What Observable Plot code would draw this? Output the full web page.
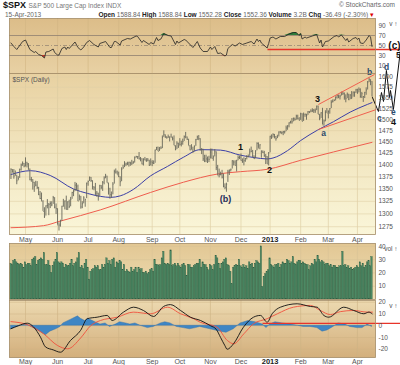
<!DOCTYPE html>
<html><head><meta charset="utf-8">
<script src="https://cdn.jsdelivr.net/npm/d3@7"></script>
<script src="https://cdn.jsdelivr.net/npm/@observablehq/plot@0.6"></script>
<style>
body{margin:0;background:#fff;font-family:"Liberation Sans",Arial,sans-serif;}
#wrap{position:relative;width:400px;height:365px;overflow:hidden;background:#fff;}
.panel{position:absolute;left:0;}
.panel svg{overflow:visible;display:block;}
.hd{position:absolute;white-space:nowrap;color:#666;font-size:6.5px;}
.hd b{color:#222;}
</style></head><body>
<div id="wrap">
 <div class="hd" style="left:3px;top:0px;font-size:9px;"><b style="color:#111">$SPX</b> <span style="font-size:6.5px;color:#777">S&amp;P 500 Large Cap Index INDX</span></div>
 <div class="hd" style="right:5px;top:1px;">© StockCharts.com</div>
 <div class="hd" style="left:5px;top:11px;">15-Apr-2013</div>
 <div class="hd" style="right:26px;top:11px;"><b>Open</b> 1588.84 <b>High</b> 1588.84 <b>Low</b> 1552.28 <b>Close</b> 1552.36 <b>Volume</b> 3.2B <b>Chg</b> -36.49 (-2.30%) <span style="color:#d00">▾</span></div>
</div>
<script>
// ---------- DATA ----------
const monthDays = [
 ["2012-04",[17,18,19,20,23,24,25,26,27,30]],
 ["2012-05",[1,2,3,4,7,8,9,10,11,14,15,16,17,18,21,22,23,24,25,29,30,31]],
 ["2012-06",[1,4,5,6,7,8,11,12,13,14,15,18,19,20,21,22,25,26,27,28,29]],
 ["2012-07",[2,3,5,6,9,10,11,12,13,16,17,18,19,20,23,24,25,26,27,30,31]],
 ["2012-08",[1,2,3,6,7,8,9,10,13,14,15,16,17,20,21,22,23,24,27,28,29,30,31]],
 ["2012-09",[4,5,6,7,10,11,12,13,14,17,18,19,20,21,24,25,26,27,28]],
 ["2012-10",[1,2,3,4,5,8,9,10,11,12,15,16,17,18,19,22,23,24,25,26,31]],
 ["2012-11",[1,2,5,6,7,8,9,12,13,14,15,16,19,20,21,23,26,27,28,29,30]],
 ["2012-12",[3,4,5,6,7,10,11,12,13,14,17,18,19,20,21,24,26,27,28,31]],
 ["2013-01",[2,3,4,7,8,9,10,11,14,15,16,17,18,22,23,24,25,28,29,30,31]],
 ["2013-02",[1,4,5,6,7,8,11,12,13,14,15,19,20,21,22,25,26,27,28]],
 ["2013-03",[1,4,5,6,7,8,11,12,13,14,15,18,19,20,21,22,25,26,27,28]],
 ["2013-04",[1,2,3,4,5,8,9,10,11,12,15]]
];
const monthLabels = ["","May","Jun","Jul","Aug","Sep","Oct","Nov","Dec","2013","Feb","Mar","Apr"];

const close = [
1390.78,1385.14,1376.92,1378.53,1366.94,1371.97,1390.69,1399.98,1403.36,1397.91,
1405.82,1402.31,1391.57,1369.10,1369.58,1363.72,1354.58,1357.99,1353.39,1338.35,
1330.66,1324.80,1304.86,1295.22,1315.99,1316.63,1318.86,1320.68,1317.82,1332.42,
1313.32,1310.33,1278.04,1278.18,1285.50,1315.13,1314.99,1325.66,1308.93,1324.18,
1314.88,1329.10,1342.84,1344.78,1357.98,1355.69,1325.51,1335.02,1313.72,1319.99,
1331.85,1329.04,1362.16,1365.51,1374.02,1367.58,1354.68,1352.46,1341.47,1341.45,
1334.76,1356.78,1353.64,1363.67,1372.78,1376.51,1362.66,1350.52,1338.31,1337.89,
1360.02,1385.97,1385.30,1379.32,1375.32,1365.00,1390.99,1394.23,1401.35,1402.22,
1402.80,1405.87,1404.11,1403.93,1405.53,1415.51,1418.16,1418.13,1413.17,1413.49,
1402.08,1411.13,1410.44,1409.30,1410.49,1399.48,1406.58,1404.94,1403.44,1432.12,
1437.92,1429.08,1433.56,1436.56,1459.99,1465.77,1461.19,1459.32,1461.05,1460.26,
1460.15,1456.89,1441.59,1433.32,1447.15,1440.67,1444.49,1445.75,1450.99,1461.40,
1460.93,1455.88,1441.48,1432.56,1432.84,1428.59,1440.13,1454.92,1460.91,1457.34,
1433.19,1433.82,1413.11,1408.75,1412.97,1411.94,1412.16,1427.59,1414.20,1417.26,
1428.39,1394.53,1377.51,1379.85,1380.03,1374.53,1355.49,1353.33,1359.88,1386.89,
1387.81,1391.03,1409.15,1406.29,1398.94,1409.93,1415.95,1416.18,1409.46,1407.05,
1409.28,1413.94,1418.07,1418.55,1427.84,1428.48,1419.45,1413.58,1430.36,1446.79,
1435.81,1443.69,1430.15,1426.66,1419.83,1418.10,1402.43,1426.19,1462.42,1459.37,
1466.47,1461.89,1457.15,1461.02,1472.12,1472.05,1470.68,1472.34,1472.63,1480.94,
1485.98,1492.56,1494.81,1494.82,1502.96,1500.18,1507.84,1501.96,1498.11,1513.17,
1495.71,1511.29,1512.12,1509.39,1517.93,1517.01,1519.43,1520.33,1521.38,1519.79,
1530.94,1511.95,1502.42,1515.60,1487.85,1496.94,1515.99,1514.68,1518.20,1525.20,
1539.79,1541.46,1544.26,1551.18,1556.22,1552.48,1554.52,1563.23,1560.70,1552.10,
1548.34,1558.71,1545.80,1556.89,1551.69,1563.77,1562.85,1569.19,1562.17,1570.25,
1553.69,1559.98,1553.28,1563.07,1568.61,1587.73,1593.37,1588.85,1552.36];

const high = [
1392.0,1390.4,1390.4,1387.4,1378.5,1375.6,1391.4,1402.1,1406.6,1403.4,
1415.3,1405.8,1403.1,1391.6,1373.9,1369.6,1363.7,1365.9,1365.2,1353.4,
1344.9,1341.8,1326.4,1312.2,1316.0,1328.5,1320.7,1324.1,1324.1,1334.9,
1332.4,1319.7,1310.3,1282.6,1287.6,1315.1,1329.0,1325.8,1335.5,1324.2,
1327.3,1333.0,1343.3,1348.2,1363.5,1361.6,1358.0,1337.8,1335.0,1324.2,
1334.4,1329.0,1362.2,1366.4,1374.8,1373.9,1367.1,1354.9,1361.5,1345.0,
1341.5,1357.7,1357.3,1365.4,1375.3,1380.4,1376.5,1362.3,1351.5,1343.9,
1363.1,1389.2,1391.7,1387.2,1385.0,1375.3,1394.2,1399.6,1407.1,1404.1,
1405.9,1405.9,1405.9,1410.0,1407.7,1417.4,1418.7,1418.1,1426.7,1416.1,
1413.5,1413.5,1416.2,1413.6,1413.9,1410.1,1413.1,1409.3,1408.8,1432.1,
1438.0,1438.7,1437.8,1439.2,1463.2,1474.5,1465.6,1461.5,1465.1,1461.2,
1467.1,1460.7,1463.2,1441.6,1450.2,1447.2,1457.1,1451.5,1456.1,1463.1,
1471.0,1460.9,1455.9,1442.0,1443.9,1438.4,1441.3,1455.5,1462.8,1464.0,
1457.1,1435.5,1433.8,1420.9,1421.1,1417.1,1418.8,1434.3,1434.3,1419.5,
1433.4,1428.4,1399.2,1391.4,1384.9,1388.8,1381.0,1360.6,1362.0,1388.8,
1389.8,1391.3,1409.2,1409.0,1409.0,1410.0,1419.7,1418.9,1423.7,1413.1,
1415.6,1413.9,1420.3,1421.6,1434.3,1438.6,1431.4,1419.5,1430.7,1448.0,
1447.8,1443.7,1430.2,1430.2,1429.4,1422.4,1418.1,1426.7,1462.4,1465.5,
1467.9,1466.5,1461.9,1464.7,1472.3,1472.8,1472.1,1473.3,1473.7,1485.2,
1486.0,1492.6,1496.1,1502.3,1503.3,1503.2,1509.9,1509.9,1504.2,1514.4,
1513.2,1514.8,1512.5,1512.1,1518.3,1518.3,1522.3,1524.7,1523.1,1524.2,
1530.9,1530.9,1511.9,1515.6,1525.8,1498.9,1520.1,1525.3,1520.0,1525.3,
1543.5,1545.3,1545.8,1552.5,1556.3,1556.8,1556.4,1563.6,1563.6,1561.6,
1557.3,1561.6,1558.7,1557.7,1564.9,1563.9,1564.1,1570.3,1570.6,1573.7,
1571.5,1563.0,1553.3,1563.1,1573.9,1589.1,1597.4,1593.4,1588.8];

const low = [
1369.6,1383.3,1370.3,1376.9,1358.8,1366.9,1372.0,1387.3,1397.3,1394.0,
1395.7,1393.9,1388.9,1367.0,1363.9,1347.8,1343.1,1354.6,1348.9,1336.6,
1328.5,1324.8,1304.9,1291.0,1295.7,1310.0,1296.5,1310.5,1314.2,1318.9,
1310.0,1298.9,1278.0,1266.7,1274.2,1285.6,1314.1,1307.8,1307.7,1306.6,
1310.5,1314.1,1329.1,1334.5,1344.8,1346.5,1324.4,1325.9,1309.3,1310.3,
1320.0,1313.2,1330.4,1355.7,1365.5,1363.5,1348.0,1346.5,1336.5,1333.2,
1325.4,1335.0,1348.5,1345.1,1358.6,1371.2,1362.2,1337.6,1329.2,1331.5,
1338.2,1360.1,1381.0,1379.2,1373.6,1354.7,1365.0,1391.0,1394.5,1396.6,
1398.8,1395.6,1397.3,1398.8,1401.5,1404.1,1414.7,1412.1,1410.9,1406.8,
1400.5,1398.0,1409.1,1405.6,1406.8,1397.0,1398.0,1396.6,1401.1,1403.7,
1431.0,1428.9,1429.1,1433.5,1435.3,1460.0,1457.6,1456.1,1458.0,1449.9,
1459.5,1452.1,1441.6,1430.5,1433.3,1435.6,1440.9,1439.0,1442.8,1451.0,
1456.9,1453.1,1441.2,1430.6,1432.3,1425.5,1429.0,1440.3,1453.3,1452.6,
1429.9,1422.3,1407.6,1405.1,1405.1,1403.3,1405.1,1412.9,1412.9,1408.1,
1417.4,1388.1,1377.5,1373.0,1377.2,1370.8,1352.4,1348.6,1343.4,1363.6,
1377.9,1385.4,1391.6,1398.0,1398.0,1385.4,1409.0,1411.6,1408.5,1403.6,
1398.2,1405.9,1410.9,1415.6,1418.6,1426.8,1416.0,1411.9,1413.5,1430.5,
1435.8,1432.8,1414.6,1424.7,1416.4,1401.1,1401.6,1398.1,1426.2,1455.5,
1459.0,1456.6,1451.6,1457.2,1461.0,1467.6,1466.0,1463.8,1467.4,1472.6,
1475.8,1481.2,1489.9,1489.5,1494.8,1496.3,1498.5,1499.1,1496.8,1498.1,
1495.0,1495.7,1505.0,1498.5,1509.4,1513.6,1515.6,1515.9,1514.0,1514.1,
1520.4,1511.4,1497.3,1502.4,1487.9,1485.0,1494.9,1514.5,1501.5,1512.3,
1525.2,1538.1,1541.4,1542.9,1547.4,1548.2,1545.2,1554.5,1555.7,1544.6,
1538.6,1548.3,1543.6,1545.8,1546.2,1551.7,1551.5,1561.1,1558.5,1562.2,
1549.1,1548.6,1539.5,1548.6,1556.3,1568.7,1586.5,1579.0,1552.3];

// volume, in units of 100M shares (axis 10..40)
const volume = [
27,26,29,30,28,27,26,27,26,24, 28,26,27,27,25,30,31,32,26,29,
30,31,30,35,26,26,29,25,20,25, 28,30,35,28,27,28,27,24,26,25,
25,27,30,25,27,28,31,35,24,25, 23,27,30,24,15,21,22,23,25,24,
25,22,22,26,24,26,31,27,29,26, 30,31,24,28,27,29,28,22,26,21,
22,21,20,24,21,22,24,20,24,22, 23,20,20,21,19,20,22,23,21,30,
26,26,25,26,31,36,27,26,27,26, 37,25,26,27,25,27,25,24,26,27,
25,18,26,26,24,24,25,26,27,27, 30,24,28,26,26,24,22,26,25,22,
26,33,31,27,23,27,28,30,31,26, 25,21,11.5,24,25,26,25,30,25,24,
26,24,25,23,28,26,27,24,27,29, 28,27,40,9.5,17,19,21,22,31,26,
25,24,26,26,27,24,26,28,27,27, 30,29,27,28,32,27,26,28,29,29,
27,28,27,26,26,22,25,27,26,30, 28,33,30,28,29,28,26,27,27,25,
26,24,25,25,24,24,25,25,36,25, 26,24,25,23,24,22,23,24,25,24,
28,25,27,24,25,28,29,25,32];

// moving averages: [bar index, value]
const ma50 = [[0,1380],[13.4,1388],[27,1378],[43,1350],[52.6,1341],[61.5,1335],[68.4,1333],[75,1336],[84,1349],[95.8,1377],[107.5,1397],[118.7,1417],[130,1433],[144,1432],[157.7,1421],[167,1416],[176,1413],[180,1415],[190,1431],[199,1453],[210.5,1476],[221.5,1495],[233,1517],[245,1535],[248,1539]];
const ma200 = [[0,1273],[22.4,1277],[34,1286],[61.5,1308],[95.9,1343],[118.5,1364],[141.9,1381],[157.7,1386],[176.2,1391],[198.9,1410],[221.5,1428],[248,1449]];

// RSI(14)
const rsi14 = [[0,55],[2,48],[4,42],[8,58],[10,61],[13,42],[16,36],[17,38],[19,32],[21,30],[23,25],[24,37],[26,38],[29,43],[30,36],[32,31],[33,31],[35,44],[37,47],[38,42],[39,47],[40,44],[44,57],[46,46],[48,41],[50,47],[52,56],[54,60],[57,52],[60,47],[61,54],[65,58],[68,46],[69,46],[71,58],[72,58],[75,51],[76,59],[80,64],[82,63],[86,69],[87,68],[90,56],[91,60],[95,52],[96,56],[98,53],[100,66],[101,60],[103,63],[105,74],[108,70],[110,69],[113,52],[114,59],[115,55],[119,62],[120,61],[125,46],[128,58],[130,45],[132,38],[135,38],[137,47],[138,42],[140,48],[142,34],[144,35],[147,29],[148,31],[149,44],[152,52],[154,49],[157,55],[159,52],[162,55],[165,58],[167,53],[169,63],[170,58],[171,61],[172,55],[176,45],[177,54],[178,65],[180,67],[182,63],[185,68],[188,68],[191,73],[194,76],[196,76],[198,70],[199,74],[200,63],[202,67],[203,65],[207,69],[210,72],[212,55],[213,61],[214,47],[216,58],[218,59],[222,68],[224,70],[225,67],[227,71],[230,60],[231,64],[232,57],[235,64],[237,66],[238,62],[239,65],[240,55],[242,54],[244,61],[246,70],[247,67],[248,48]];

// MACD(12,26,9)
const macdLine = [[0,-2.5],[5,0],[11.2,2.2],[15.5,-1],[20.3,-9.7],[23.7,-18],[29,-20.5],[34,-22.5],[40.9,-12.5],[47.8,-4],[52.4,6],[59.2,7.3],[66.1,8.8],[69.5,4.5],[77.3,11.6],[84.2,15.8],[91,13],[98,7.9],[104.8,16.4],[109.6,18],[116.5,13],[123.3,7.3],[130.2,4.5],[137.1,0],[141,-3],[144,-10],[147,-17],[148.5,-20],[152.9,-15.3],[159.7,-1.2],[166.6,7.3],[171.4,8.8],[176,3],[179.4,10.2],[185.1,15.8],[196.6,18.7],[205.7,16.4],[210.3,15.8],[214.9,8.8],[218.3,7.3],[228.6,15.8],[235.5,13],[242.4,10.2],[245.8,11.6],[248.1,10.2]];
const macdSignal = [[0,3.5],[11.2,1],[22.4,-6.8],[32,-16.8],[39,-19.6],[47.8,-10.5],[54.7,0],[61.5,4.5],[73,7.3],[84,11.6],[96,10.2],[107.5,15.8],[116.5,10.2],[125.5,6],[130,3],[141.5,-1.2],[148.6,-12.5],[153,-15.3],[160,-6.8],[166.6,1.7],[176,6],[183,10.2],[194,15.8],[205.7,17.3],[212.5,13],[219.4,9.5],[226.2,12],[235.3,13],[244.9,11.6],[248.3,11.6]];
const macdHist = [[0,-3],[6.6,0],[11,1],[15.5,-2],[20,-5],[24,-8],[27,-5],[31,-3],[34,-1],[36,2],[41,5],[46,8],[48,6],[51,4],[53,6],[58,3],[61.5,1],[65,2],[68,-1],[72,1],[75,3],[79,2],[82,1],[85.5,2],[89,0],[94,-2],[98,-1],[103,2],[106,3],[109.6,2],[114,-1],[118.5,-2],[123,-3],[127,-2],[130,-1],[137,-3],[144,-5],[148,-6],[153,-3],[157.7,2],[163,4],[168,3],[173,1],[175.5,-2],[178,1],[181.7,3],[186.5,2],[192,1],[197,0],[201,-1],[205.7,-1],[210.5,-2],[214,-5],[217.4,-4],[221.5,-1],[225,2],[229.8,1],[233,-1],[238,-2],[241.5,-2],[245,1],[248,-1]];

// analyst annotations (bar index, price)
const waveLabels = [
 {t:"1",i:157.7,p:1437.7,k:"n"},{t:"2",i:177.6,p:1388.3,k:"n"},{t:"3",i:210.5,p:1546.3,k:"n"},
 {t:"(b)",i:147.4,p:1328.6,k:"p"},{t:"a",i:214.7,p:1468.6,k:"l"},{t:"b",i:246.3,p:1611,k:"l"},
 {t:"c",i:253.1,p:1502.3,k:"l"},{t:"d",i:258,p:1623,k:"l"},{t:"e",i:262.7,p:1516,k:"l"},
 {t:"4",i:262.7,p:1493.3,k:"n"},{t:"5",i:266.2,p:1653,k:"n"},{t:"(c)",i:263.4,p:1678,k:"c"}];
const channelLines = [{i1:211.2,p1:1534.6,i2:249.7,p2:1606},{i1:211.2,p1:1477.5,i2:251,p2:1523}];
const zigzag = [[248.3,1551],[252.4,1518.4],[254.5,1562.8],[255.9,1541.7],[257.9,1615.9],[260,1551],[260.7,1567.6],[262.7,1523],[267.5,1665.7]];
const rsiLevel = {i1:176.2,i2:267.5,v:42};
const macdLevel = {i1:172.8,i2:267.5,v:2};

const priceTicks = [1275,1300,1325,1350,1375,1400,1425,1450,1475,1500,1525,1550,1575,1600];

// ---------- BUILD ----------
const days = monthDays.flatMap(([m, ds]) => ds.map(d => m + "-" + String(d).padStart(2,"0")));
const bars = days.map((date, i) => ({i, date, high: high[i], low: low[i], close: close[i], vol: volume[i]}));
const monthTicks = [];
{ let idx = 0; monthDays.forEach(([m, ds], k) => { if (k > 0) monthTicks.push({i: idx, label: monthLabels[k]}); idx += ds.length; }); }

const wrap = document.getElementById("wrap");
const FONT = "'Liberation Sans', Arial, sans-serif";
const xScale = {type: "linear", domain: [-1, 250.4], axis: null};
const baseStyle = {background: "transparent", overflow: "visible", fontFamily: FONT};
const M = {width: 400, marginLeft: 9, marginRight: 25};

function gradient(svg, id, stops) {
  d3.select(svg).insert("defs", ":first-child").html(
    `<linearGradient id="${id}" x1="0" y1="0" x2="0" y2="1">` +
    stops.map(([o, c]) => `<stop offset="${o}" stop-color="${c}"/>`).join("") + `</linearGradient>`);
}
function place(svg, top) {
  const d = document.createElement("div");
  d.className = "panel"; d.style.top = top + "px";
  d.appendChild(svg); wrap.appendChild(d);
}
const monthGrid = (c) => Plot.ruleX(monthTicks, {x: "i", stroke: c, strokeWidth: 0.6});
const monthText = (dy) => [
  Plot.text(monthTicks.filter(d => d.label !== "2013"), {x: "i", text: "label", frameAnchor: "bottom", dy, lineAnchor: "middle", fill: "#555", fontSize: 7}),
  Plot.text(monthTicks.filter(d => d.label === "2013"), {x: "i", text: "label", frameAnchor: "bottom", dy, lineAnchor: "middle", fill: "#222", fontSize: 7.5, fontWeight: "bold"})
];
const rightAxis = (ticks) => Plot.axisY({anchor: "right", ticks, tickSize: 0, tickPadding: 3, fontSize: 6.5, color: "#555", tickFormat: d => String(d)});

// RSI panel
const rsiSvg = Plot.plot({
  ...M, height: 55, marginTop: 0, marginBottom: 0,
  x: xScale, y: {domain: [-6, 104], axis: null},
  style: baseStyle,
  marks: [
    Plot.frame({fill: "url(#gRsi)"}),
    monthGrid("#d2b683"),
    Plot.ruleY([70, 30], {stroke: "#8f8070", strokeWidth: 0.8}),
    Plot.ruleY([50], {stroke: "#8f8070", strokeWidth: 0.7, strokeDasharray: "4,2,1,2"}),
    Plot.areaY(rsi14, {x: d => d[0], y1: 70, y2: d => Math.max(70, d[1]), fill: "#2f7d3a"}),
    Plot.areaY(rsi14, {x: d => d[0], y1: 30, y2: d => Math.min(30, d[1]), fill: "#c0392b"}),
    Plot.line(rsi14, {x: d => d[0], y: d => d[1], stroke: "#222", strokeWidth: 0.8}),
    Plot.link([rsiLevel], {x1: "i1", x2: "i2", y1: "v", y2: "v", stroke: "#e8342a", strokeWidth: 1.3}),
    rightAxis([10, 30, 50, 70, 90]),
    Plot.frame({stroke: "#a48c66", strokeWidth: 0.8})
  ]
});
gradient(rsiSvg, "gRsi", [[0, "#dcbd89"], [1, "#e8d1a4"]]);
place(rsiSvg, 18);

// Volume panel
const volSvg = Plot.plot({
  ...M, height: 56, marginTop: 0, marginBottom: 0,
  x: xScale, y: {domain: [0, 42.2], axis: null},
  style: baseStyle,
  marks: [
    Plot.frame({fill: "url(#gVol)"}),
    Plot.ruleY([10, 20, 30, 40], {stroke: "#d9c397", strokeWidth: 0.6}),
    monthGrid("#d9c397"),
    Plot.rectY(bars, {x1: d => d.i - 0.5, x2: d => d.i + 0.5, y: "vol", fill: "#4c8964", stroke: "#2f5e43", strokeWidth: 0.35}),
    rightAxis([10, 20, 30, 40]),
    Plot.frame({stroke: "#a48c66", strokeWidth: 0.8})
  ]
});
gradient(volSvg, "gVol", [[0, "#e2c794"], [1, "#efdfb4"]]);
place(volSvg, 243);

// MACD panel
const macdSvg = Plot.plot({
  ...M, height: 65, marginTop: 0, marginBottom: 8,
  x: xScale, y: {domain: [-27, 21.5], axis: null},
  style: baseStyle,
  marks: [
    Plot.frame({fill: "url(#gMacd)"}),
    Plot.ruleY([-20, -10, 0, 10, 20], {stroke: "#cfb384", strokeWidth: 0.5}),
    monthGrid("#cfb384"),
    Plot.areaY(macdHist, {x: d => d[0], y: d => d[1], fill: "#3f86c4", stroke: "#2a6aa6", strokeWidth: 0.4}),
    Plot.line(macdSignal, {x: d => d[0], y: d => d[1], stroke: "#f0503c", strokeWidth: 0.9, curve: "monotone-x"}),
    Plot.line(macdLine, {x: d => d[0], y: d => d[1], stroke: "#111", strokeWidth: 0.9, curve: "monotone-x"}),
    Plot.link([macdLevel], {x1: "i1", x2: "i2", y1: "v", y2: "v", stroke: "#e8342a", strokeWidth: 1.3}),
    rightAxis([-20, -10, 0, 10, 20]),
    ...monthText(4),
    Plot.frame({stroke: "#a48c66", strokeWidth: 0.8})
  ]
});
gradient(macdSvg, "gMacd", [[0, "#ecd9b0"], [1, "#d3af7c"]]);
place(macdSvg, 300);

// Main price panel (on top so annotations can overflow upward)
const mainSvg = Plot.plot({
  ...M, height: 173, marginTop: 0, marginBottom: 12,
  x: xScale, y: {type: "log", domain: [1260, 1608.5], axis: null},
  style: baseStyle,
  marks: [
    Plot.frame({fill: "url(#gMain)"}),
    monthGrid("#dccb9f"),
    Plot.ruleY(priceTicks, {stroke: "#e0d0a6", strokeWidth: 0.6}),
    Plot.text(["$SPX (Daily)"], {frameAnchor: "top-left", dx: 3, dy: 4, fill: "#555", fontSize: 6.5, textAnchor: "start"}),
    Plot.line(ma200, {x: d => d[0], y: d => d[1], stroke: "#ef5d4e", strokeWidth: 1, curve: "monotone-x"}),
    Plot.line(ma50, {x: d => d[0], y: d => d[1], stroke: "#3b3fa6", strokeWidth: 1, curve: "monotone-x"}),
    Plot.ruleX(bars, {x: "i", y1: "low", y2: "high", stroke: "#66665a", strokeWidth: 0.9}),
    Plot.link(bars, {x1: "i", x2: d => d.i + 0.5, y1: "close", y2: "close", stroke: "#66665a", strokeWidth: 0.8}),
    Plot.link(channelLines, {x1: "i1", y1: "p1", x2: "i2", y2: "p2", stroke: "#f0604f", strokeWidth: 1}),
    Plot.line(zigzag, {x: d => d[0], y: d => d[1], stroke: "#111", strokeWidth: 1}),
    Plot.text(waveLabels.filter(d => d.k === "n"), {x: "i", y: "p", text: "t", fill: "#111", fontSize: 9, fontWeight: "bold"}),
    Plot.text(waveLabels.filter(d => d.k === "l"), {x: "i", y: "p", text: "t", fill: "#2b4a6c", fontSize: 8.5, fontWeight: "bold"}),
    Plot.text(waveLabels.filter(d => d.k === "p"), {x: "i", y: "p", text: "t", fill: "#1e2d5a", fontSize: 9, fontWeight: "bold"}),
    Plot.text(waveLabels.filter(d => d.k === "c"), {x: "i", y: "p", text: "t", fill: "#111", fontSize: 10, fontWeight: "bold"}),
    rightAxis(priceTicks),
    ...monthText(5),
    Plot.frame({stroke: "#a48c66", strokeWidth: 0.8})
  ]
});
gradient(mainSvg, "gMain", [[0, "#e8d1a1"], [0.5, "#f2e6c0"], [1, "#faf6d9"]]);
place(mainSvg, 73);
</script>
</body></html>
